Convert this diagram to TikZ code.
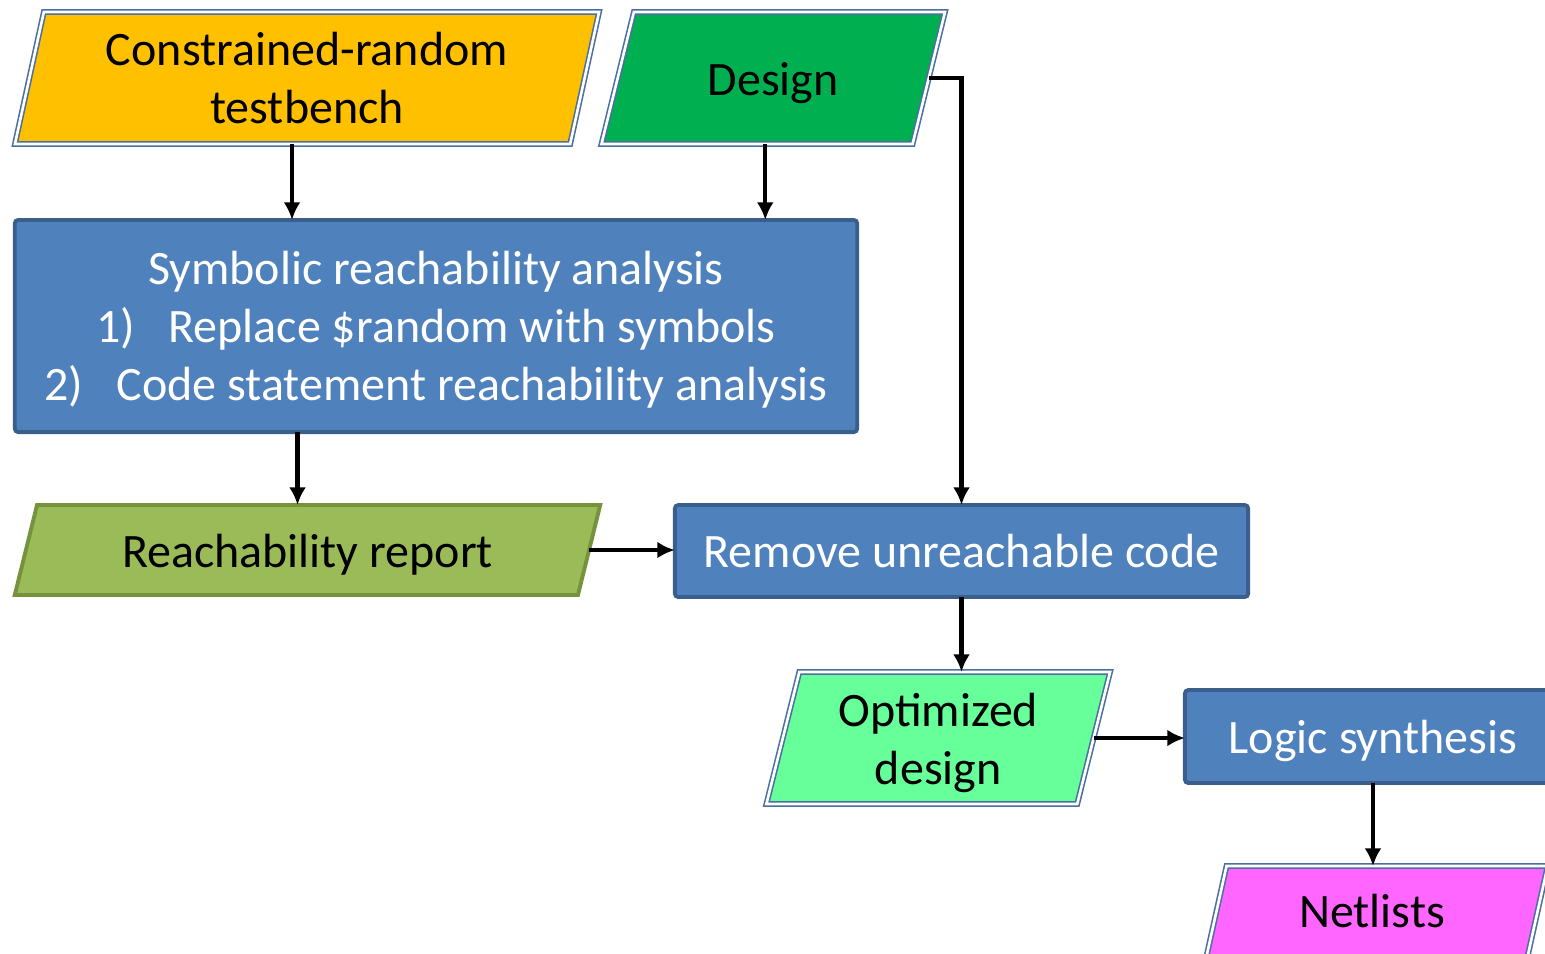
\documentclass[tikz,border=0pt]{standalone}
\usepackage{fontspec}
\setmainfont{Carlito}
\usetikzlibrary{shapes.geometric}
\usetikzlibrary{arrows.meta}

\definecolor{tbfill}{HTML}{FFC000}
\definecolor{dsfill}{HTML}{00B050}
\definecolor{opfill}{HTML}{66FF99}
\definecolor{nlfill}{HTML}{FF66FF}
\definecolor{rpfill}{HTML}{9BBB59}
\definecolor{rpbord}{HTML}{76923C}
\definecolor{prfill}{HTML}{4F81BD}
\definecolor{prbord}{HTML}{3A5F8C}
\definecolor{iobord}{HTML}{4A6FA0}

\begin{document}
\begin{tikzpicture}[x=0.01cm,y=-0.01cm]
	%\draw[help lines,step=100] (0,0) grid (1545,953);

	% parallelograms: body = text width, height = text height + text depth
	\tikzstyle{para} = [trapezium,inner sep=0pt,outer sep=0pt,align=flush center,font=\fontsize{13.65}{16.5}\selectfont]
	\tikzstyle{iobox} = [para,draw=iobord,double=white,line width=0.45pt,double distance=0.75pt]
	\tikzstyle{pbox} = [rectangle,draw=prbord,fill=prfill,line width=1.1pt,rounded corners=1pt,inner sep=0pt,outer sep=0pt,text depth=0pt,text=white,align=center,font=\fontsize{13.65}{16.5}\selectfont]
	\tikzstyle{flow} = [-{Latex[length=5pt,width=4.8pt]},line width=1.2pt]

\useasboundingbox (0,0) rectangle (1545,953);
\clip (0,0) rectangle (1545,953);

\node[iobox,fill=tbfill,trapezium left angle=77.65,trapezium right angle=102.35,text width=5.26cm,text height=0.53cm,text depth=0.79cm] (tb) at (307,78) {Constrained-random\\testbench};
\node[iobox,fill=dsfill,trapezium left angle=76.2,trapezium right angle=103.8,text width=2.785cm,text height=0.83cm,text depth=0.49cm] (ds) at (773.25,78) {Design};

\node[pbox,minimum width=8.42cm,minimum height=2.12cm] (sra) at (436,326) {Symbolic reachability analysis\\1)\hspace{9.5pt}Replace \$random with symbols\\2)\hspace{9.5pt}Code statement reachability analysis};

\node[para,draw=rpbord,fill=rpfill,line width=1.1pt,trapezium left angle=76.1,trapezium right angle=103.9,text width=5.406cm,text height=0.62cm,text depth=0.28cm] (rep) at (307.5,550) {Reachability report};
\node[pbox,minimum width=5.73cm,minimum height=0.92cm] (ruc) at (961.5,551) {Remove unreachable code};

\node[iobox,fill=opfill,trapezium left angle=76,trapezium right angle=104,text width=2.777cm,text height=0.54cm,text depth=0.78cm] (opt) at (938.25,738) {Optimized\\design};
\node[pbox,minimum width=3.76cm,minimum height=0.93cm] (ls) at (1373,736.5) {Logic synthesis};
\node[iobox,fill=nlfill,trapezium left angle=77.5,trapezium right angle=102.5,text width=2.908cm,text height=0.61cm,text depth=0.75cm] (net) at (1372,934) {Netlists};

% connectors
\draw[flow] ([xshift=-0.15cm]tb.south) -- ([xshift=-0.15cm]tb.south |- sra.north);
\draw[flow] ([xshift=-0.08cm]ds.south) -- ([xshift=-0.08cm]ds.south |- sra.north);
\draw[flow] (ds.east) -| (ruc.north);
\draw[flow] ([xshift=-0.1cm]rep.north |- sra.south) -- ([xshift=-0.1cm]rep.north);
\draw[flow] (rep.east) -- (rep.east -| ruc.west);
\draw[flow] (ruc.south) -- (ruc.south |- opt.north);
\draw[flow] (opt.east) -- (opt.east -| ls.west);
\draw[flow] (ls.south) -- (ls.south |- net.north);
\end{tikzpicture}
\end{document}
